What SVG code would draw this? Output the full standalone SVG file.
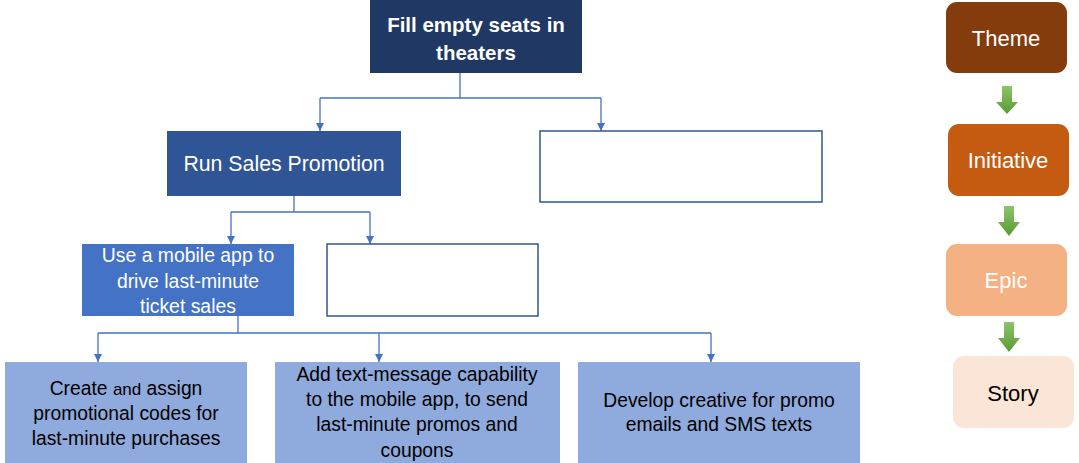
<svg xmlns="http://www.w3.org/2000/svg" width="1079" height="463" viewBox="0 0 1079 463">
<defs>
<marker id="ah" markerWidth="8" markerHeight="8" refX="8" refY="4" orient="auto" markerUnits="userSpaceOnUse" viewBox="0 0 8 8">
<path d="M0,0 L8,4 L0,8 Z" fill="#4472c4"/>
</marker>
<linearGradient id="g" x1="0" y1="0" x2="0" y2="1">
<stop offset="0" stop-color="#8cc46a"/>
<stop offset="1" stop-color="#5a9a35"/>
</linearGradient>
<style>
text{font-family:"Liberation Sans",Arial,sans-serif;text-anchor:middle}
.w{fill:#ffffff}
.k{fill:#000000}
.c{fill:none;stroke:#4472c4;stroke-width:1.3}
.e{fill:#ffffff;stroke:#2f5597;stroke-width:1.5}
.b{fill:#8faadc}
.ga{fill:url(#g)}
.lg{font-size:22px}
</style>
</defs>
<rect width="1079" height="463" fill="#ffffff"/>
<g id="connectors">
<path class="c" d="M460,73 V98 M320,98 H601"/>
<path class="c" d="M320,98 V131" marker-end="url(#ah)"/>
<path class="c" d="M601,98 V131" marker-end="url(#ah)"/>
<path class="c" d="M294,196 V212 M231,212 H370"/>
<path class="c" d="M231,212 V244" marker-end="url(#ah)"/>
<path class="c" d="M370,212 V244" marker-end="url(#ah)"/>
<path class="c" d="M238,316 V333 M98,333 H711"/>
<path class="c" d="M98,333 V362" marker-end="url(#ah)"/>
<path class="c" d="M379,333 V362" marker-end="url(#ah)"/>
<path class="c" d="M711,333 V362" marker-end="url(#ah)"/>
</g>
<g id="theme-goal">
<rect x="370" y="0" width="212" height="73" fill="#203864"/>
<text class="w" x="476" y="32" font-size="20.5" font-weight="bold">Fill empty seats in</text>
<text class="w" x="476" y="60" font-size="20.5" font-weight="bold">theaters</text>
</g>
<g id="initiative-sales">
<rect x="167" y="131" width="234" height="65" fill="#2f5597"/>
<text class="w" x="284" y="171" font-size="21.3">Run Sales Promotion</text>
</g>
<g id="initiative-empty">
<rect class="e" x="540" y="131" width="282" height="71"/>
</g>
<g id="epic-mobile">
<rect x="82" y="244" width="212" height="72" fill="#4472c4"/>
<text class="w" x="188" y="262" font-size="19.4">Use a mobile app to</text>
<text class="w" x="188" y="288" font-size="19.4">drive last-minute</text>
<text class="w" x="188" y="313" font-size="19.4">ticket sales</text>
</g>
<g id="epic-empty">
<rect class="e" x="327" y="244" width="211" height="72"/>
</g>
<g id="story-codes">
<rect class="b" x="5" y="362" width="242" height="101"/>
<text class="k" x="126" y="395" font-size="19.3">Create <tspan font-size="17">and</tspan> assign</text>
<text class="k" x="126" y="420" font-size="19.3">promotional codes for</text>
<text class="k" x="126" y="445" font-size="19.3">last-minute purchases</text>
</g>
<g id="story-text">
<rect class="b" x="275" y="362" width="285" height="101"/>
<text class="k" x="417" y="381" font-size="19.3">Add text-message capability</text>
<text class="k" x="417" y="406" font-size="19.3">to the mobile app, to send</text>
<text class="k" x="417" y="431" font-size="19.3">last-minute promos and</text>
<text class="k" x="417" y="457" font-size="19.3">coupons</text>
</g>
<g id="story-creative">
<rect class="b" x="578" y="362" width="282" height="101"/>
<text class="k" x="719" y="407" font-size="19.3">Develop creative for promo</text>
<text class="k" x="719" y="431" font-size="19.3">emails and SMS texts</text>
</g>
<g id="legend-theme">
<rect x="946" y="2" width="121" height="71" rx="11" fill="#843c0c"/>
<text class="w lg" x="1006" y="46">Theme</text>
</g>
<g id="legend-arrow1"><path class="ga" d="M1002,86 H1012 V102 H1018 L1007,114 L996,102 H1002 Z"/></g>
<g id="legend-initiative">
<rect x="948" y="124" width="121" height="72" rx="11" fill="#c55a11"/>
<text class="w lg" x="1008" y="168">Initiative</text>
</g>
<g id="legend-arrow2"><path class="ga" d="M1004,206 H1014 V222 H1020 L1009,236 L998,222 H1004 Z"/></g>
<g id="legend-epic">
<rect x="946" y="244" width="121" height="72" rx="11" fill="#f4b183"/>
<text class="w lg" x="1006" y="288">Epic</text>
</g>
<g id="legend-arrow3"><path class="ga" d="M1004,322 H1014 V338 H1020 L1009,352 L998,338 H1004 Z"/></g>
<g id="legend-story">
<rect x="953" y="356" width="121" height="72" rx="11" fill="#fbe5d6"/>
<text class="k lg" x="1013" y="401">Story</text>
</g>
</svg>
